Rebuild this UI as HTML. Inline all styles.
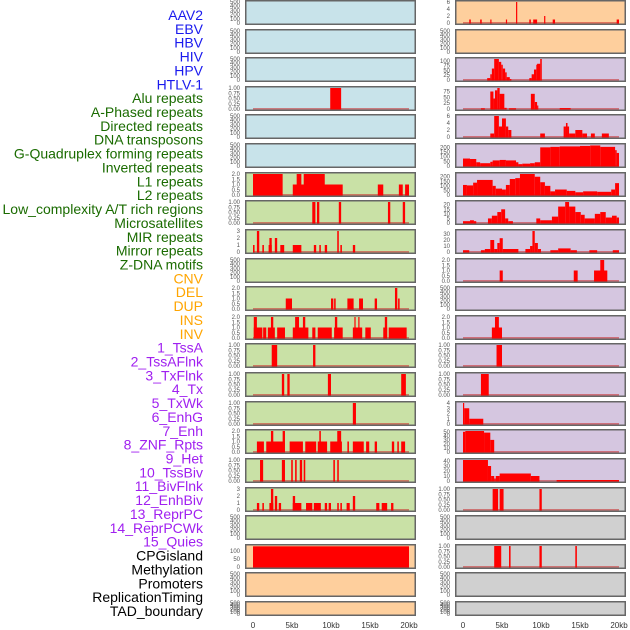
<!DOCTYPE html>
<html><head><meta charset="utf-8">
<style>
html,body{margin:0;padding:0;background:#fff;}
svg{display:block;font-family:"Liberation Sans",sans-serif;}
</style></head>
<body>
<svg id="chart" width="630" height="630" viewBox="0 0 630 630" xmlns="http://www.w3.org/2000/svg">
<g id="labels"></g>
<g id="panels"></g>
<g id="xaxis"></g>
</svg>
<script>
const trackLabels = ["AAV2","EBV","HBV","HIV","HPV","HTLV-1","Alu repeats","A-Phased repeats","Directed repeats","DNA transposons","G-Quadruplex forming repeats","Inverted repeats","L1 repeats","L2 repeats","Low_complexity A/T rich regions","Microsatellites","MIR repeats","Mirror repeats","Z-DNA motifs","CNV","DEL","DUP","INS","INV","1_TssA","2_TssAFlnk","3_TxFlnk","4_Tx","5_TxWk","6_EnhG","7_Enh","8_ZNF_Rpts","9_Het","10_TssBiv","11_BivFlnk","12_EnhBiv","13_ReprPC","14_ReprPCWk","15_Quies","CPGisland","Methylation","Promoters","ReplicationTiming","TAD_boundary"];
const labelGroups = [6,13,5,15,5];
const groupColors = ["#1a1aee","#1a6b00","#ffa500","#a020f0","#000000"];
const xTicks = [0,5,10,15,20];
const xTickLabels = ["0","5kb","10kb","15kb","20kb"];
const T500 = ["0","100","200","300","400","500"];
const T1 = ["0.00","0.25","0.50","0.75","1.00"];
const T2 = ["0.0","0.5","1.0","1.5","2.0"];
const T3 = ["0","1","2","3"];
const BLUE="#c8e3ea", GREEN="#c9e1a6", ORANGE="#fecf9d", PURPLE="#d5c6e0", GREY="#d0d0d0";

const leftBg = [BLUE,BLUE,BLUE,BLUE,BLUE,BLUE,GREEN,GREEN,GREEN,GREEN,GREEN,GREEN,GREEN,GREEN,GREEN,GREEN,GREEN,GREEN,GREEN,ORANGE,ORANGE,ORANGE];
const rightBg = [ORANGE,ORANGE,PURPLE,PURPLE,PURPLE,PURPLE,PURPLE,PURPLE,PURPLE,PURPLE,PURPLE,PURPLE,PURPLE,PURPLE,PURPLE,PURPLE,PURPLE,GREY,GREY,GREY,GREY,GREY];
const leftYMax = [500,500,500,1,500,500,2,1,3,500,2,2,1,1,1,2,1,3,500,130,500,500];
const rightYMax = [6,500,110,90,6,225,230,23,35,2,500,2,1,1,4,52,42,1,500,1,500,500];
const leftTicks = [T500,T500,T500,T1,T500,T500,T2,T1,T3,T500,T2,T2,T1,T1,T1,T2,T1,T3,T500,["0","50","100"],T500,T500];
const rightTicks = [["0","2","4","6"],T500,["0","25","50","75","100"],["0","25","50","75"],["0","2","4","6"],["0","50","100","150","200"],["0","50","100","150","200"],["0","5","10","15","20"],["0","10","20","30"],T2,T500,T2,T1,T1,["0","1","2","3","4"],["0","10","20","30","40","50"],["0","10","20","30","40"],T1,T500,T1,T500,T500];

// segments: [startKb, endKb, value]
const leftSegs = [
 [],[],[],
 [[9.9,11.3,1]],
 [],[],
 [[0,3.8,2],[5.1,11.5,1],[5.6,6.2,2],[6.5,9.2,2],[16.0,16.7,1],[18.7,19.2,1],[19.5,20,1]],
 [[7.6,8.0,1],[8.2,8.5,1],[11.0,11.3,1],[17.3,17.6,1],[19.2,19.5,1]],
 [[0,0.2,1],[0.5,0.8,3],[1.2,1.4,1],[2.0,2.4,1],[2.1,2.4,2],[2.8,3.1,2],[3.5,4.0,1],[5.1,6.2,1],[7.8,8.1,1],[8.5,8.7,1],[9.2,9.5,1],[10.8,11.0,3],[11.2,11.4,1],[12.8,13.1,1]],
 [],
 [[4.2,5.0,1],[10.0,10.3,1],[10.4,10.6,1],[12.1,12.9,1],[13.6,14.1,1],[15.6,15.9,1],[18.2,18.5,2],[18.6,18.8,1]],
 [[0.1,1.2,1],[0.1,0.5,2],[1.3,1.7,1],[1.9,2.8,1],[2.3,2.6,2],[3.1,4.1,1],[5.1,7.1,1],[5.4,5.9,2],[6.4,6.7,2],[7.6,8.0,1],[8.3,10.1,1],[10.4,11.5,1],[10.5,10.8,2],[12.8,14.0,1],[13.0,13.1,2],[13.5,13.6,2],[14.4,15.1,1],[16.7,17.2,1],[16.9,17.2,2],[17.4,19.7,1]],
 [[2.4,3.1,1],[7.7,8.0,1]],
 [[3.7,4.0,1],[4.4,4.7,1],[9.6,10.0,1],[19.0,19.6,1]],
 [[12.8,13.2,1]],
 [[0.5,1.4,1],[1.7,4.0,1],[2.3,2.6,2],[3.8,4.1,2],[4.7,6.4,1],[6.7,8.1,1],[8.3,9.5,1],[8.5,8.7,2],[9.9,11.4,1],[10.8,11.3,2],[12.1,12.3,1],[12.8,14.2,1],[14.5,14.9,1],[15.6,15.9,1],[17.8,18.1,1],[18.5,18.7,1],[19.0,19.5,1]],
 [[0.9,1.3,1],[3.7,4.1,1],[4.9,5.1,1],[5.4,5.6,1],[6.0,6.3,1],[6.5,6.7,1],[10.3,10.5,1],[10.8,11.0,1]],
 [[0.5,0.8,1],[1.2,1.4,1],[2.1,2.6,1],[2.3,2.6,3],[2.8,3.1,2],[3.3,3.6,1],[5.1,6.2,1],[5.1,5.4,2],[6.8,7.6,1],[7.8,8.7,1],[9.2,9.5,1],[9.7,10.0,1],[10.8,11.0,1],[11.2,11.4,1],[12.0,12.4,1],[12.8,13.1,2],[15.8,16.2,1],[16.5,17.2,1],[17.7,18.0,1]],
 [],
 [[0,20,128]],
 [],[]
];
const rightSegs = [
 [[0.8,1.0,1],[2.2,2.4,1],[3.5,3.6,1],[5.5,5.6,1],[6.8,6.9,6],[8.5,8.7,1],[9.0,9.5,1],[10.4,10.5,2],[11.5,11.8,1],[19.7,20,1]],
 [],
 [[3.1,3.5,10],[3.5,3.7,30],[3.7,4.0,60],[4.0,4.6,110],[4.6,4.9,95],[4.9,5.1,80],[5.1,5.4,60],[5.4,5.6,40],[5.6,6.0,15],[6.0,6.2,5],[8.5,8.8,10],[8.8,9.1,30],[9.1,9.4,55],[9.4,9.5,80],[9.5,9.9,85],[9.9,10.1,110]],
 [[2.3,2.8,3],[3.5,3.9,75],[3.9,4.1,45],[4.1,4.4,80],[4.4,4.7,90],[4.7,5.3,65],[5.3,5.6,5],[5.9,6.8,3],[8.7,9.2,65],[9.2,9.5,30],[9.5,9.6,15],[12.4,13.8,4]],
 [[3.5,4.0,1],[4.0,4.6,6],[4.6,5.0,3],[5.0,5.5,5.3],[5.5,5.8,3],[5.8,6.2,2],[9.9,10.5,1],[12.9,13.2,3],[13.2,13.4,4],[13.4,13.6,3],[13.6,14.4,1],[14.4,15.3,2],[15.3,15.9,1],[16.4,16.9,1],[17.8,18.7,1]],
 [[0,0.9,80],[0.9,1.7,75],[1.7,2.2,40],[2.2,3.5,30],[3.5,3.8,45],[3.8,4.7,60],[4.7,5.5,65],[5.5,6.8,60],[6.8,7.1,40],[7.1,7.6,20],[7.6,8.6,25],[8.6,9.2,30],[9.2,9.9,40],[9.9,11.2,200],[11.2,12.4,205],[12.4,15.0,210],[15.0,16.3,215],[16.3,17.6,220],[17.6,19.5,205],[19.5,19.7,170],[19.7,20,140]],
 [[0,0.5,110],[0.5,1.3,105],[1.3,1.8,135],[1.8,3.8,165],[3.8,4.2,100],[4.2,5.0,70],[5.0,5.5,60],[5.5,6.0,110],[6.0,6.7,175],[6.7,7.3,185],[7.3,9.2,230],[9.2,9.9,200],[9.9,10.5,140],[10.5,11.2,100],[11.2,11.8,40],[11.8,13.3,60],[13.3,14.4,45],[14.4,15.4,30],[15.4,17.2,40],[17.2,19.0,35],[19.0,19.5,60],[19.5,20,130]],
 [[0,0.9,2],[0.9,1.4,3],[1.4,1.7,2],[3.2,3.7,5],[3.7,4.4,8],[4.4,4.9,12],[4.9,5.4,15],[5.4,5.8,5],[5.8,6.4,2],[9.4,9.9,5],[9.9,11.4,3],[11.4,12.2,7],[12.2,13.1,18],[13.1,13.6,23],[13.6,14.4,18],[14.4,15.1,12],[15.1,15.6,9],[15.6,16.9,5],[16.9,17.6,10],[17.6,18.3,12],[18.3,19.1,6],[19.1,19.7,8],[19.7,20,6]],
 [[0,0.8,3],[2.3,2.8,3],[2.8,3.5,5],[3.5,4.0,20],[4.0,4.4,5],[4.4,4.7,15],[4.7,5.1,23],[5.1,7.1,5],[8.0,8.6,5],[8.6,8.9,10],[8.9,9.2,35],[9.2,9.6,15],[9.6,10.0,5],[11.2,12.2,3],[12.2,13.8,6],[13.8,14.6,3],[16.2,17.2,3],[19.2,20,3]],
 [[4.7,5.1,1],[14.2,14.7,1],[16.8,18.5,1],[17.6,18.1,2]],
 [],
 [[3.7,5.0,1],[4.1,4.6,2]],
 [[4.3,5.0,1]],
 [[2.3,3.3,1]],
 [[0,0.15,4],[0.15,0.8,3],[0.8,2.6,1]],
 [[0,0.3,50],[0.3,2.7,52],[2.7,3.5,48],[3.5,4.0,30]],
 [[0,3.2,45],[3.2,3.6,30],[3.6,4.0,10],[4.0,4.2,5],[4.2,4.7,10],[4.7,8.7,15],[8.7,9.8,10],[12.0,20,2]],
 [[3.8,4.5,1],[4.7,5.2,1],[9.8,10.1,1]],
 [],
 [[4.0,4.9,1],[5.9,6.1,1],[9.8,10.1,1],[14.4,14.6,1]],
 [],[]
];

const NS="http://www.w3.org/2000/svg";
function mk(tag, attrs, parent){const e=document.createElementNS(NS,tag);for(const k in attrs)e.setAttribute(k,attrs[k]);parent.appendChild(e);return e;}

// labels
const lg=document.getElementById('labels');
let gi=0, gc=0;
trackLabels.forEach((t,i)=>{
  while(gc>=labelGroups[gi]){gi++;gc=0;}
  gc++;
  const e=mk('text',{x:203,y:15+i*13.86+5,'text-anchor':'end','font-size':'14',fill:groupColors[gi]},lg);
  e.textContent=t;
  
  
});

const cols=[{x0:245,x1:416,z:253,bg:leftBg,ym:leftYMax,tk:leftTicks,sg:leftSegs,tx:240},
            {x0:455,x1:626,z:463,bg:rightBg,ym:rightYMax,tk:rightTicks,sg:rightSegs,tx:450}];
const pxPerKb=7.8;
const pg=document.getElementById('panels');
cols.forEach((c,ci)=>{
  const xs=kb=>c.z+kb*pxPerKb;
  for(let r=0;r<22;r++){
    const top=Math.round(r*28.62), h=(r===21)?15:25, bot=top+h;
    const ys=v=>bot-2-(Math.min(v,c.ym[r])/c.ym[r])*(h-4);
    const g=mk('g',{},pg);
    
    
    const bg=mk('rect',{x:c.x0,y:top,width:c.x1-c.x0,height:h,fill:c.bg[r]},g);
    
    
    const segs=c.sg[r];
    if(segs.length){
      const bl=mk('rect',{x:xs(0),y:bot-3,width:xs(20)-xs(0),height:2,fill:'rgba(200,40,40,0.55)'},g);
      
      
    }
    segs.forEach(s=>{
      const y=ys(s[2]);
      const b=mk('rect',{x:xs(s[0]),y:y,width:Math.max(1.2,xs(s[1])-xs(s[0])),height:bot-1-y,fill:'#ff0000'},g);
      
      
    });
    mk('rect',{x:c.x0+0.75,y:top+0.75,width:c.x1-c.x0-1.5,height:h-1.5,fill:'none',stroke:'#666',
      'stroke-width':1.5},g);
    c.tk[r].forEach(t=>{
      const v=parseFloat(t);
      const e=mk('text',{x:c.tx,y:ys(v)+2,'text-anchor':'end','font-size':'6',fill:'#555'},g);
      e.textContent=t;
      
      
    });
  }
  const xa=document.getElementById('xaxis');
  xTicks.forEach((v,i)=>{
    const e=mk('text',{x:xs(v),y:628,'text-anchor':'middle','font-size':'8',fill:'#333'},xa);
    e.textContent=xTickLabels[i];
    
    
  });
});
</script>
</body></html>
